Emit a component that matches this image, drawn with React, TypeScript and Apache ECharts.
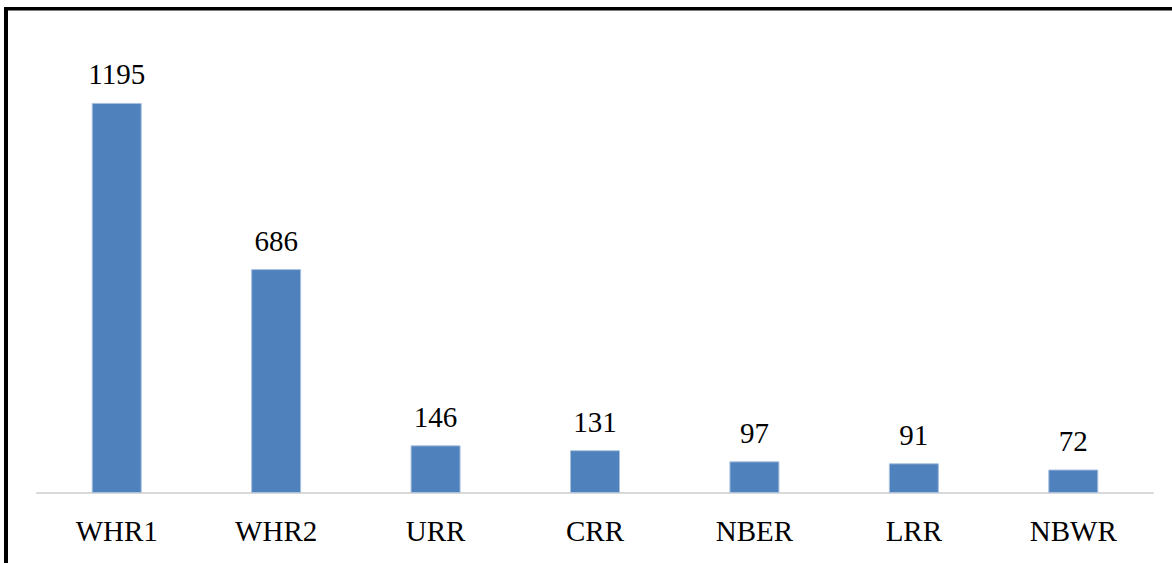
import React, { useEffect, useRef } from "react";
import * as echarts from "echarts";

const categories = ["WHR1", "WHR2", "URR", "CRR", "NBER", "LRR", "NBWR"];
const values = [1195, 686, 146, 131, 97, 91, 72];

export default function App() {
  const ref = useRef<HTMLDivElement>(null);
  useEffect(() => {
    document.body.style.margin = "0";
    const chart = echarts.init(ref.current!, null, { renderer: "svg" });
    chart.setOption({
      animation: false,
      backgroundColor: "#ffffff",
      grid: { left: 37, right: 19, top: 36, bottom: 70 },
      xAxis: {
        type: "category",
        data: categories,
        axisLine: { show: true, lineStyle: { color: "#d9d9d9", width: 2 } },
        axisTick: { show: false },
        axisLabel: {
          fontFamily: "Liberation Serif",
          fontSize: 29,
          color: "#000000",
          margin: 23,
        },
      },
      yAxis: {
        type: "value",
        min: 0,
        max: 1400,
        show: false,
        splitLine: { show: false },
      },
      series: [
        {
          type: "bar",
          data: values,
          barWidth: 50,
          itemStyle: { color: "#4f81bd", borderColor: "#a9c0de", borderWidth: 1 },
          label: {
            show: true,
            position: "top",
            distance: 14,
            fontFamily: "Liberation Serif",
            fontSize: 29,
            color: "#000000",
          },
        },
      ],
      graphic: [
        { type: "rect", shape: { x: 4, y: 7, width: 1168, height: 3.5 }, style: { fill: "#000" } },
        { type: "rect", shape: { x: 4, y: 7, width: 4, height: 556 }, style: { fill: "#000" } },
      ],
    });
    return () => chart.dispose();
  }, []);
  return <div ref={ref} style={{ width: 1172, height: 563 }} />;
}
